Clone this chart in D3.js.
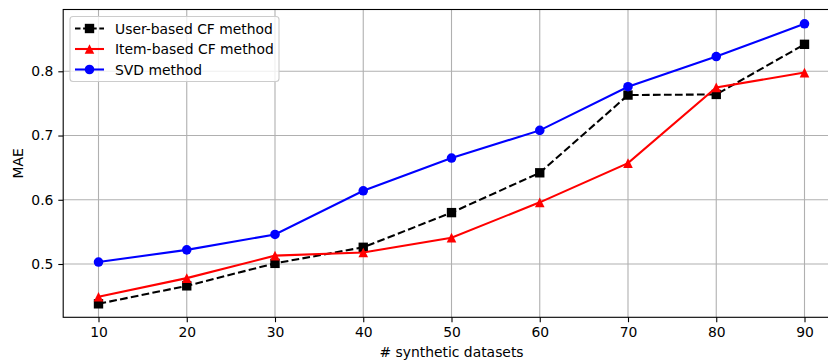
<!DOCTYPE html>
<html><head><meta charset="utf-8">
<script src="https://cdn.jsdelivr.net/npm/d3@7"></script>
<style>body{margin:0;background:#fff}svg{display:block}text{font-family:"DejaVu Sans",sans-serif}</style>
</head><body><svg id="c" width="828" height="362"></svg>
<script>
const datasets = [10,20,30,40,50,60,70,80,90];
const userCF = [0.438,0.466,0.501,0.526,0.580,0.642,0.763,0.764,0.842];
const itemCF = [0.449,0.478,0.513,0.518,0.541,0.596,0.657,0.775,0.798];
const svdM   = [0.503,0.522,0.546,0.614,0.665,0.708,0.776,0.823,0.874];
const yTicks = [0.5,0.6,0.7,0.8];
const seriesNames = ["User-based CF method","Item-based CF method","SVD method"];

const svg = d3.select("#c");
const L=63.2, R=839.8, T=9.5, B=317.3;
const x = d3.scaleLinear().domain([6,94]).range([L,R]);
const y = d3.scaleLinear().domain([0.5,0.8]).range([264,71.3]);

const g = svg.append("g");
g.selectAll(".gx").data(datasets).enter().append("line")
 .attr("x1",d=>x(d)).attr("x2",d=>x(d)).attr("y1",T).attr("y2",B)
 .attr("stroke","#b0b0b0").attr("stroke-width",1.1);
g.selectAll(".gy").data(yTicks).enter().append("line")
 .attr("x1",L).attr("x2",R).attr("y1",d=>y(d)).attr("y2",d=>y(d))
 .attr("stroke","#b0b0b0").attr("stroke-width",1.1);

const xa = svg.append("g").attr("transform",`translate(0,${B})`)
 .call(d3.axisBottom(x).tickValues(datasets).tickSize(4.9).tickPadding(4.9).tickFormat(d3.format("d")));
const ya = svg.append("g").attr("transform",`translate(${L},0)`)
 .call(d3.axisLeft(y).tickValues(yTicks).tickSize(4.9).tickPadding(4.9).tickFormat(d3.format(".1f")));
[xa,ya].forEach(a=>{a.select(".domain").remove();
 a.selectAll("text").attr("font-size","13.9px").attr("fill","#000").attr("font-family","DejaVu Sans");
 a.selectAll("line").attr("stroke","#000").attr("stroke-width",1.1);});

svg.append("rect").attr("x",L).attr("y",T).attr("width",R-L).attr("height",B-T)
 .attr("fill","none").attr("stroke","#000").attr("stroke-width",1.1);

const tri = {draw(ctx,size){const h=Math.sqrt(size)/2;ctx.moveTo(0,-h);ctx.lineTo(h,h);ctx.lineTo(-h,h);ctx.closePath();}};
const line = d3.line().x((d,i)=>x(datasets[i])).y(d=>y(d));
const series = [
 {vals:userCF, color:"#000", dash:"7.7,3.3", marker:d3.symbolSquare, size:88},
 {vals:itemCF, color:"#ff0000", dash:null, marker:tri, size:92},
 {vals:svdM, color:"#0000ff", dash:null, marker:d3.symbolCircle, size:72}
];
series.forEach(s=>{
 svg.append("path").datum(s.vals).attr("d",line).attr("fill","none")
  .attr("stroke",s.color).attr("stroke-width",2.08).attr("stroke-dasharray",s.dash);
 svg.selectAll(null).data(s.vals).enter().append("path")
  .attr("d",d3.symbol().type(s.marker).size(s.size))
  .attr("transform",(d,i)=>`translate(${x(datasets[i])},${y(d)})`)
  .attr("fill",s.color);
});

svg.append("text").attr("x",(L+R)/2).attr("y",357).attr("text-anchor","middle")
 .attr("font-size","13.9px").text("# synthetic datasets");
svg.append("text").attr("transform",`translate(23,${(T+B)/2}) rotate(-90)`).attr("text-anchor","middle")
 .attr("font-size","13.9px").text("MAE");

const lg = svg.append("g");
lg.append("rect").attr("x",70).attr("y",16.5).attr("width",209).attr("height",65).attr("rx",3)
 .attr("fill","#fff").attr("fill-opacity",0.8).attr("stroke","#ccc").attr("stroke-width",1.1);
seriesNames.forEach((n,i)=>{
 const s=series[i], yy=28.5+i*20.5;
 lg.append("line").attr("x1",75).attr("x2",104).attr("y1",yy).attr("y2",yy)
  .attr("stroke",s.color).attr("stroke-width",2.08).attr("stroke-dasharray",s.dash?"5.5,2.6":null);
 lg.append("path").attr("d",d3.symbol().type(s.marker).size(s.size))
  .attr("transform",`translate(89.5,${yy})`).attr("fill",s.color);
 lg.append("text").attr("x",115).attr("y",yy+5).attr("font-size","13.9px").text(n);
});
</script></body></html>
